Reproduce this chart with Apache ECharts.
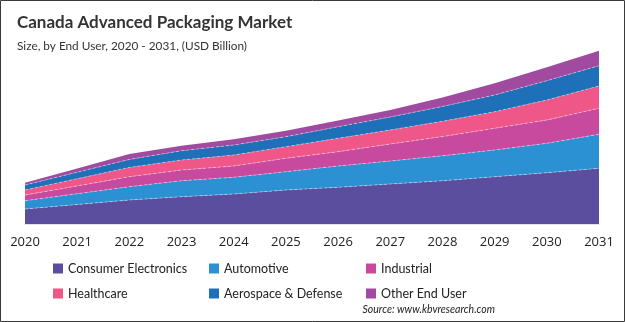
<!DOCTYPE html>
<html>
<head>
<meta charset="utf-8">
<script src="https://cdn.jsdelivr.net/npm/echarts@6/dist/echarts.min.js"></script>
<style>
  html, body { margin: 0; padding: 0; background: #fff; }
  #chart { width: 625px; height: 322px; }
</style>
</head>
<body>
<div id="chart"></div>
<script>
// Canada advanced packaging market by end user, USD billion
const years = ['2020','2021','2022','2023','2024','2025','2026','2027','2028','2029','2030','2031'];

const consumerElectronics = [0.150, 0.195, 0.240, 0.273, 0.300, 0.340, 0.367, 0.400, 0.432, 0.473, 0.513, 0.557];
const automotive          = [0.083, 0.108, 0.133, 0.160, 0.167, 0.183, 0.213, 0.230, 0.250, 0.267, 0.294, 0.340];
const industrial          = [0.057, 0.078, 0.100, 0.107, 0.113, 0.134, 0.143, 0.170, 0.192, 0.217, 0.233, 0.260];
const healthcare          = [0.050, 0.072, 0.093, 0.100, 0.110, 0.116, 0.134, 0.140, 0.153, 0.166, 0.200, 0.223];
const aerospaceDefense    = [0.050, 0.065, 0.080, 0.093, 0.100, 0.100, 0.116, 0.130, 0.148, 0.167, 0.193, 0.203];
const otherEndUser        = [0.023, 0.038, 0.053, 0.050, 0.057, 0.060, 0.062, 0.070, 0.090, 0.117, 0.134, 0.150];

const seriesNames = ['Consumer Electronics', 'Automotive', 'Industrial', 'Healthcare', 'Aerospace & Defense', 'Other End User'];
const seriesData = [consumerElectronics, automotive, industrial, healthcare, aerospaceDefense, otherEndUser];
const colors = ['#5c4e9f', '#2c91d3', '#c84a9f', '#ef5788', '#1e70b8', '#a04aa0'];

const font = 'Lato, "Open Sans", sans-serif';

const chart = echarts.init(document.getElementById('chart'), null, { renderer: 'canvas' });

const series = seriesNames.map((name, i) => ({
  name,
  type: 'line',
  stack: 'total',
  data: seriesData[i],
  symbol: 'none',
  smooth: false,
  areaStyle: { color: colors[i], opacity: 1 },
  lineStyle: i < seriesNames.length - 1
    ? { color: 'rgba(255,255,255,0.55)', width: 0.8, type: [3, 2] }
    : { width: 0 },
  itemStyle: { color: colors[i] }
}));

function legendColumn(left, names) {
  return {
    orient: 'vertical',
    left,
    top: 262,
    padding: 0,
    itemWidth: 10,
    itemHeight: 10,
    itemGap: 12,
    icon: 'rect',
    data: names,
    selectedMode: false,
    textStyle: { fontFamily: font, fontSize: 12.5, color: '#222' }
  };
}

chart.setOption({
  animation: false,
  backgroundColor: '#fff',
  color: colors,
  title: [
    {
      text: 'Canada Advanced Packaging Market',
      left: 12,
      top: 9,
      textStyle: { fontFamily: font, fontSize: 17, fontWeight: 'bold', color: '#333' }
    },
    {
      text: 'Size, by End User, 2020 - 2031, (USD Billion)',
      left: 12,
      top: 35,
      textStyle: { fontFamily: font, fontSize: 11.8, fontWeight: 'normal', color: '#333' }
    }
  ],
  legend: [
    legendColumn(53, ['Consumer Electronics', 'Healthcare']),
    legendColumn(209, ['Automotive', 'Aerospace & Defense']),
    legendColumn(366, ['Industrial', 'Other End User'])
  ],
  grid: { left: 25, right: 26, top: 40, bottom: 98, containLabel: false },
  xAxis: {
    type: 'category',
    data: years,
    boundaryGap: false,
    axisLine: { show: true, lineStyle: { color: '#e4e4e4', width: 1 } },
    axisTick: { show: false },
    axisLabel: { fontFamily: '"Open Sans", sans-serif', fontSize: 13, color: '#222', margin: 12 }
  },
  yAxis: {
    type: 'value',
    min: 0,
    max: 1.84,
    show: false,
    splitLine: { show: false }
  },
  series,
  graphic: [
    {
      type: 'text',
      right: 130,
      top: 304,
      style: {
        text: 'Source: www.kbvresearch.com',
        font: 'italic 10.5px ' + font,
        fill: '#222'
      }
    },
    {
      type: 'rect',
      shape: { x: 0.5, y: 0.5, width: 624, height: 321 },
      style: { fill: 'none', stroke: '#3a3a3a', lineWidth: 1 },
      silent: true,
      z: 100
    }
  ]
});
</script>
</body>
</html>
